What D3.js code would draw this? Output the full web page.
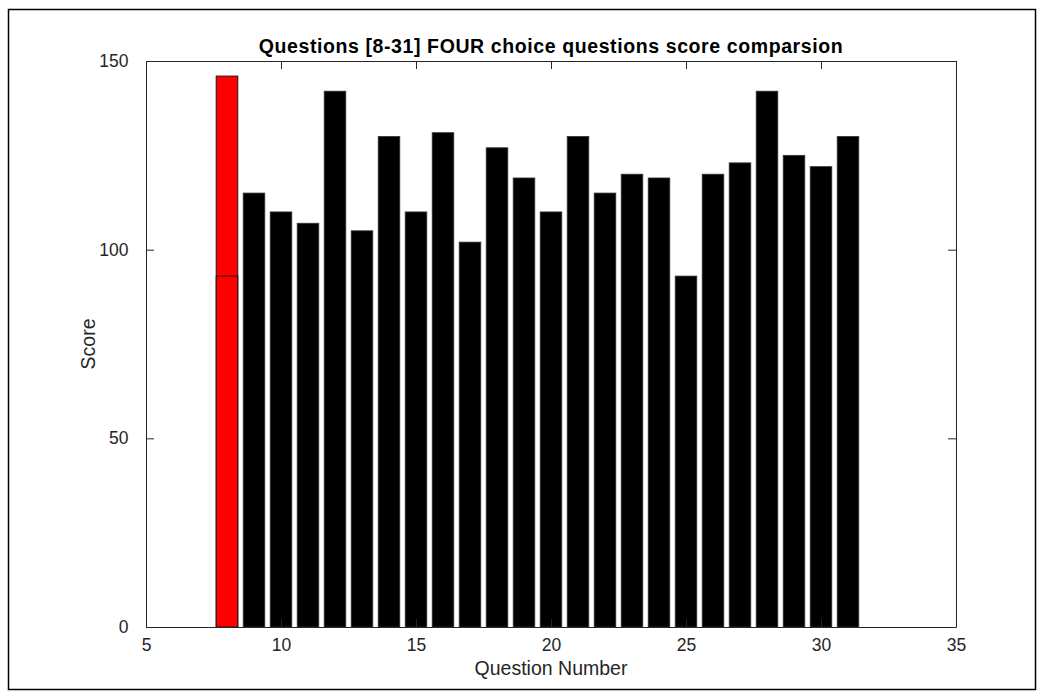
<!DOCTYPE html>
<html>
<head>
<meta charset="utf-8">
<script src="https://cdn.jsdelivr.net/npm/d3@7"></script>
<style>
  html, body { margin: 0; padding: 0; background: #fff; }
  svg { display: block; }
  text { font-family: "Liberation Sans", Arial, Helvetica, sans-serif; }
</style>
</head>
<body>
<svg id="chart" width="1044" height="697"></svg>
<script>
// Question numbers and scores
const questions = [9, 10, 11, 12, 13, 14, 15, 16, 17, 18, 19, 20, 21, 22, 23, 24, 25, 26, 27, 28, 29, 30, 31];
const scores    = [115, 110, 107, 142, 105, 130, 110, 131, 102, 127, 119, 110, 130, 115, 120, 119, 93, 120, 123, 142, 125, 122, 130];

// Highlighted question (drawn in red, two stacked outlines)
const highlightQuestion = [8, 8];
const highlightScores   = [146, 93];

const xTicks = [5, 10, 15, 20, 25, 30, 35];
const yTicks = [0, 50, 100, 150];

const titleText = "Questions [8-31] FOUR choice questions score comparsion";
const xLabel = "Question Number";
const yLabel = "Score";

const plot = { left: 146, right: 956, top: 61, bottom: 627 };
const barWidth = 0.8;
const tickLen = 8;
const axisColor = "#262626";

const svg = d3.select("#chart");

// outer figure frame
svg.append("rect")
  .attr("x", 8.5).attr("y", 9.5)
  .attr("width", 1027).attr("height", 680)
  .attr("fill", "none").attr("stroke", "#000").attr("stroke-width", 1.5);

const x = d3.scaleLinear().domain([5, 35]).range([plot.left, plot.right]);
const y = d3.scaleLinear().domain([0, 150]).range([plot.bottom, plot.top]);

const bw = x(barWidth) - x(0);

// bars
svg.append("g").selectAll("rect")
  .data(questions.map((q, i) => ({ q, v: scores[i] })))
  .join("rect")
  .attr("x", d => x(d.q) - bw / 2)
  .attr("y", d => y(d.v))
  .attr("width", bw)
  .attr("height", d => y(0) - y(d.v))
  .attr("fill", "#000")
  .attr("stroke", "#333")
  .attr("stroke-width", 0.8);

svg.append("g").selectAll("rect")
  .data(highlightQuestion.map((q, i) => ({ q, v: highlightScores[i] })))
  .join("rect")
  .attr("x", d => x(d.q) - bw / 2)
  .attr("y", d => y(d.v))
  .attr("width", bw)
  .attr("height", d => y(0) - y(d.v))
  .attr("fill", "#ff0000")
  .attr("stroke", "#1a1a1a")
  .attr("stroke-width", 1);

// axes (box with inward ticks)
const xAxisB = d3.axisBottom(x).tickValues(xTicks).tickSizeInner(-tickLen).tickSizeOuter(0).tickPadding(12).tickFormat(d3.format("d"));
const xAxisT = d3.axisTop(x).tickValues(xTicks).tickSizeInner(-tickLen).tickSizeOuter(0).tickFormat("");
const yAxisL = d3.axisLeft(y).tickValues(yTicks).tickSizeInner(-tickLen).tickSizeOuter(0).tickPadding(17.5).tickFormat(d3.format("d"));
const yAxisR = d3.axisRight(y).tickValues(yTicks).tickSizeInner(-tickLen).tickSizeOuter(0).tickFormat("");

function styleAxis(g) {
  g.select(".domain").attr("stroke", axisColor).attr("stroke-width", 1);
  g.selectAll(".tick line").attr("stroke", axisColor).attr("stroke-width", 1);
  g.selectAll(".tick text").attr("fill", axisColor).style("font-size", "17.5px")
    .style("font-family", "'Liberation Sans', Arial, sans-serif");
}

svg.append("g").attr("transform", `translate(0,${plot.bottom})`).call(xAxisB).call(styleAxis);
svg.append("g").attr("transform", `translate(0,${plot.top})`).call(xAxisT).call(styleAxis);
svg.append("g").attr("transform", `translate(${plot.left},0)`).call(yAxisL).call(styleAxis);
svg.append("g").attr("transform", `translate(${plot.right},0)`).call(yAxisR).call(styleAxis);

// title
svg.append("text")
  .attr("x", (plot.left + plot.right) / 2).attr("y", 53)
  .attr("text-anchor", "middle")
  .style("font-size", "19.5px").style("font-weight", "bold")
  .style("letter-spacing", "0.6px")
  .attr("fill", "#000")
  .text(titleText);

// axis labels
svg.append("text")
  .attr("x", (plot.left + plot.right) / 2).attr("y", 675)
  .attr("text-anchor", "middle")
  .style("font-size", "19.5px").attr("fill", axisColor)
  .text(xLabel);

svg.append("text")
  .attr("transform", `translate(95,${(plot.top + plot.bottom) / 2}) rotate(-90)`)
  .attr("text-anchor", "middle")
  .style("font-size", "19.5px").attr("fill", axisColor)
  .text(yLabel);
</script>
</body>
</html>
